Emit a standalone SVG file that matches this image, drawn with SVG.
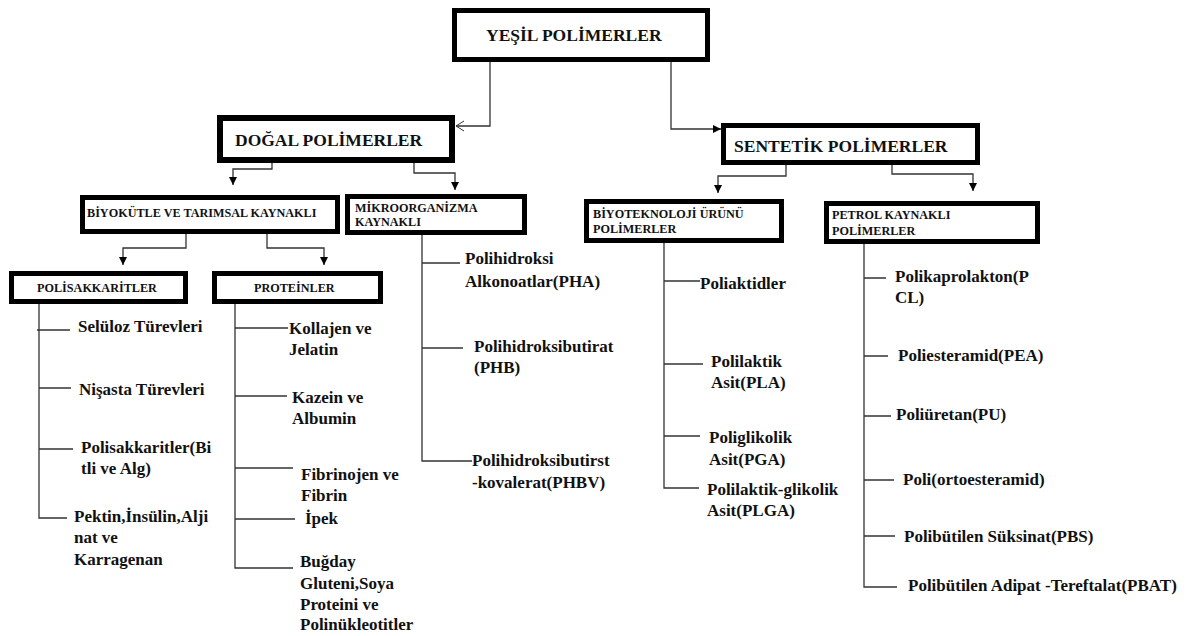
<svg xmlns="http://www.w3.org/2000/svg" width="1195" height="636" viewBox="0 0 1195 636">
<style>
.box{fill:#fff;stroke:#000;stroke-width:5}
.h1{font-family:"Liberation Serif","Times New Roman",serif;font-weight:bold;font-size:17.5px;fill:#111}
.h2{font-family:"Liberation Serif","Times New Roman",serif;font-weight:bold;font-size:12.2px;fill:#111}
.t{font-family:"Liberation Serif","Times New Roman",serif;font-weight:bold;font-size:17px;fill:#111}
.c{fill:none;stroke:#333;stroke-width:1.3}
</style>
<defs>
<marker id="af" markerUnits="userSpaceOnUse" markerWidth="9" markerHeight="9" refX="8" refY="4" orient="auto">
<path d="M0,0 L8,4 L0,8 z" fill="#000"/>
</marker>
<marker id="ao" markerUnits="userSpaceOnUse" markerWidth="10" markerHeight="12" refX="9" refY="6" orient="auto">
<path d="M1,1 L9,6 L1,11" fill="none" stroke="#333" stroke-width="1"/>
</marker>
</defs>
<rect width="1195" height="636" fill="#fff"/>
<g id="connectors">
<path class="c" d="M490,62 V126 H456" marker-end="url(#ao)"/>
<path class="c" d="M671,62 V129 H721" marker-end="url(#af)"/>
<path class="c" d="M272,163 V169 H233 V185" marker-end="url(#af)"/>
<path class="c" d="M414,163 V173 H455 V190" marker-end="url(#af)"/>
<path class="c" d="M786,165 V176 H718 V193" marker-end="url(#af)"/>
<path class="c" d="M892,165 V174 H973 V191" marker-end="url(#af)"/>
<path class="c" d="M186,234 V248 H123 V265" marker-end="url(#af)"/>
<path class="c" d="M267,234 V248 H324 V265" marker-end="url(#af)"/>
<path class="c" d="M39,304 V518 H67 M37,330 H70 M39,388 H71 M39,449 H73"/>
<path class="c" d="M235,304 V568 H293 M235,328 H288 M235,396 H287 M235,468 H293 M235,519 H295"/>
<path class="c" d="M422,235 V461 H472 M422,263 H460 M422,348 H463"/>
<path class="c" d="M664,243 V488 H699 M664,281 H700 M664,364 H703 M664,436 H700"/>
<path class="c" d="M864,244 V587 H897 M864,278 H886 M864,356 H888 M864,416 H891 M864,480 H894 M864,536 H895"/>
</g>
<g id="yesil"><rect class="box" x="454.5" y="10.5" width="253" height="49"/><text class="h1" x="486" y="41">YEŞİL POLİMERLER</text></g>
<g id="dogal"><rect class="box" x="220" y="118" width="232" height="42" style="stroke-width:6"/><text class="h1" x="235" y="146">DOĞAL POLİMERLER</text></g>
<g id="sentetik"><rect class="box" x="723.5" y="125.5" width="254" height="37"/><text class="h1" x="734" y="152">SENTETİK POLİMERLER</text></g>
<g id="biyokutle"><rect class="box" x="82.5" y="197.5" width="255" height="34"/><text class="h2" x="87" y="217">BİYOKÜTLE VE TARIMSAL KAYNAKLI</text></g>
<g id="mikro"><rect class="box" x="347.5" y="196.5" width="177" height="36"/><text class="h2" x="355" y="212">MİKROORGANİZMA</text><text class="h2" x="355" y="226">KAYNAKLI</text></g>
<g id="biyotek"><rect class="box" x="586.5" y="201.5" width="195" height="39"/><text class="h2" x="593" y="218">BİYOTEKNOLOJİ ÜRÜNÜ</text><text class="h2" x="593" y="233">POLİMERLER</text></g>
<g id="petrol"><rect class="box" x="826.5" y="203.5" width="211" height="38"/><text class="h2" x="832" y="219">PETROL KAYNAKLI</text><text class="h2" x="832" y="235">POLİMERLER</text></g>
<g id="polisak"><rect class="box" x="11.5" y="273.5" width="174" height="28"/><text class="h2" x="37" y="292">POLİSAKKARİTLER</text></g>
<g id="protein"><rect class="box" x="214.5" y="273.5" width="166" height="28"/><text class="h2" x="254" y="292">PROTEİNLER</text></g>
<g id="leaf-seluloz"><text class="t" x="78" y="332">Selüloz Türevleri</text></g>
<g id="leaf-nisasta"><text class="t" x="79" y="395">Nişasta Türevleri</text></g>
<g id="leaf-polisak"><text class="t" x="81" y="453">Polisakkaritler(Bi</text><text class="t" x="81" y="474">tli ve Alg)</text></g>
<g id="leaf-pektin"><text class="t" x="74" y="522">Pektin,İnsülin,Alji</text><text class="t" x="74" y="543">nat ve</text><text class="t" x="74" y="565">Karragenan</text></g>
<g id="leaf-kollajen"><text class="t" x="289" y="334">Kollajen ve</text><text class="t" x="289" y="355">Jelatin</text></g>
<g id="leaf-kazein"><text class="t" x="292" y="403">Kazein ve</text><text class="t" x="292" y="424">Albumin</text></g>
<g id="leaf-fibrin"><text class="t" x="301" y="480">Fibrinojen ve</text><text class="t" x="301" y="501">Fibrin</text></g>
<g id="leaf-ipek"><text class="t" x="305" y="524">İpek</text></g>
<g id="leaf-bugday"><text class="t" x="300" y="567">Buğday</text><text class="t" x="300" y="589">Gluteni,Soya</text><text class="t" x="300" y="610">Proteini ve</text><text class="t" x="300" y="630">Polinükleotitler</text></g>
<g id="leaf-pha"><text class="t" x="465" y="264">Polihidroksi</text><text class="t" x="465" y="287">Alkonoatlar(PHA)</text></g>
<g id="leaf-phb"><text class="t" x="474" y="352">Polihidroksibutirat</text><text class="t" x="474" y="373">(PHB)</text></g>
<g id="leaf-phbv"><text class="t" x="472" y="466">Polihidroksibutirst</text><text class="t" x="472" y="488">-kovalerat(PHBV)</text></g>
<g id="leaf-poliaktid"><text class="t" x="700" y="289">Poliaktidler</text></g>
<g id="leaf-pla"><text class="t" x="711" y="367">Polilaktik</text><text class="t" x="711" y="388">Asit(PLA)</text></g>
<g id="leaf-pga"><text class="t" x="709" y="443">Poliglikolik</text><text class="t" x="709" y="465">Asit(PGA)</text></g>
<g id="leaf-plga"><text class="t" x="707" y="495">Polilaktik-glikolik</text><text class="t" x="707" y="516">Asit(PLGA)</text></g>
<g id="leaf-pcl"><text class="t" x="895" y="282">Polikaprolakton(P</text><text class="t" x="895" y="303">CL)</text></g>
<g id="leaf-pea"><text class="t" x="898" y="361">Poliesteramid(PEA)</text></g>
<g id="leaf-pu"><text class="t" x="896" y="420">Poliüretan(PU)</text></g>
<g id="leaf-orto"><text class="t" x="903" y="485">Poli(ortoesteramid)</text></g>
<g id="leaf-pbs"><text class="t" x="904" y="542">Polibütilen Süksinat(PBS)</text></g>
<g id="leaf-pbat"><text class="t" x="908" y="591">Polibütilen Adipat -Tereftalat(PBAT)</text></g>
</svg>
